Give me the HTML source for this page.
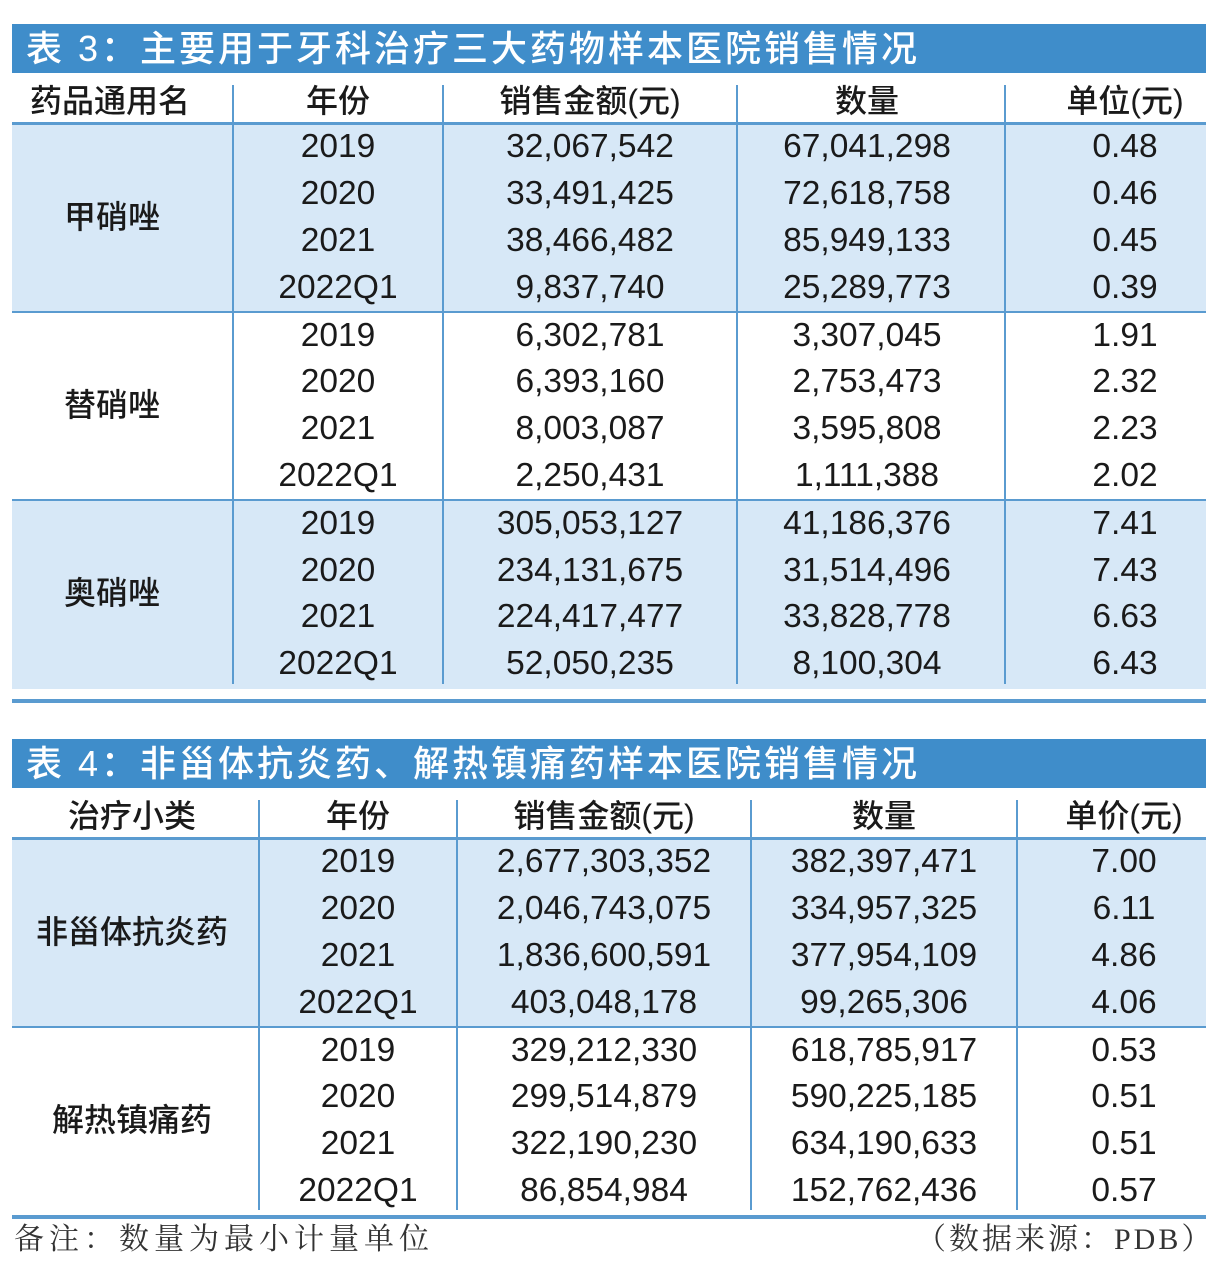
<!DOCTYPE html>
<html><head><meta charset="utf-8">
<style>
body{margin:0;background:#fff;width:1228px;height:1282px;position:relative;overflow:hidden;font-family:"Liberation Sans","Noto Sans CJK SC",sans-serif;color:#1a1a1a}
.a{position:absolute}
.title{background:#3f8dca;color:#fff;font-size:36px;line-height:49px;padding-left:14px;box-sizing:border-box;letter-spacing:3px;font-weight:500}
.t{position:absolute;font-size:33.5px;line-height:40px;white-space:nowrap;transform:translate(-50%,-50%)}
.h{position:absolute;font-size:32px;line-height:40px;white-space:nowrap;transform:translate(-50%,-50%);font-weight:500}
.band{position:absolute;background:#d7e8f7}
.hl{position:absolute;background:#5a9bd0}
.vl{position:absolute;background:#5a9bd0;width:2px}
.note{position:absolute;font-family:"Liberation Serif","Noto Serif CJK SC",serif;font-size:30px;line-height:36px;color:#333;white-space:nowrap}
</style></head>
<body>
<div id="root"></div>
<script>
const t3Title = "表 3：主要用于牙科治疗三大药物样本医院销售情况";
const t3Headers = ["药品通用名","年份","销售金额(元)","数量","单位(元)"];
const t3Groups = ["甲硝唑","替硝唑","奥硝唑"];
const years = ["2019","2020","2021","2022Q1"];
const t3Sales = ["32,067,542","33,491,425","38,466,482","9,837,740","6,302,781","6,393,160","8,003,087","2,250,431","305,053,127","234,131,675","224,417,477","52,050,235"];
const t3Qty = ["67,041,298","72,618,758","85,949,133","25,289,773","3,307,045","2,753,473","3,595,808","1,111,388","41,186,376","31,514,496","33,828,778","8,100,304"];
const t3Unit = ["0.48","0.46","0.45","0.39","1.91","2.32","2.23","2.02","7.41","7.43","6.63","6.43"];
const t4Title = "表 4：非甾体抗炎药、解热镇痛药样本医院销售情况";
const t4Headers = ["治疗小类","年份","销售金额(元)","数量","单价(元)"];
const t4Groups = ["非甾体抗炎药","解热镇痛药"];
const t4Sales = ["2,677,303,352","2,046,743,075","1,836,600,591","403,048,178","329,212,330","299,514,879","322,190,230","86,854,984"];
const t4Qty = ["382,397,471","334,957,325","377,954,109","99,265,306","618,785,917","590,225,185","634,190,633","152,762,436"];
const t4Unit = ["7.00","6.11","4.86","4.06","0.53","0.51","0.51","0.57"];

const root=document.getElementById('root');
function mk(cls,style,text){const e=document.createElement('div');e.className=cls;Object.assign(e.style,style);if(text!==undefined)e.textContent=text;root.appendChild(e);return e;}

function table(cfg){
  const {top,title,headers,groups,sales,qty,unit,cols,centers,prefix}=cfg;
  const L=12,W=1194,rowH=46.8;
  let e=mk('a title',{left:L+'px',top:top+'px',width:W+'px',height:'49px'},title);
  
  
  const bodyTop=top+101;
  headers.forEach((h,i)=>{
    let x=centers[i]; if(i===0&&prefix==='table3') x=110;
    const d=mk('h',{left:x+'px',top:(top+77)+'px'},h);
    
    
  });
  const gH=rowH*4;
  groups.forEach((g,gi)=>{
    const y0=bodyTop+gi*(gH+1);
    if(gi%2===0){const b=mk('band',{left:L+'px',top:y0+'px',width:W+'px',height:gH+'px'});
      
      }
    const n=mk('t',{left:centers[0]+'px',top:(y0+gH/2-2)+'px',fontSize:'32px',fontWeight:'500'},g);
    
    
    years.forEach((yr,ri)=>{
      const k=gi*4+ri, cy=y0+rowH*ri+rowH/2-1;
      [yr,sales[k],qty[k],unit[k]].forEach((v,ci)=>{
        const c=mk('t',{left:centers[ci+1]+'px',top:cy+'px'},v);
        
        
      });
    });
    if(gi>0){const l=mk('hl',{left:L+'px',top:(y0-2)+'px',width:W+'px',height:'2px'});
      
      }
  });
  const bodyEnd=bodyTop+groups.length*(gH+1);
  let hl=mk('hl',{left:L+'px',top:(bodyTop-3)+'px',width:W+'px',height:'3px'});
  
  
  let bl=mk('hl',{left:L+'px',top:(bodyEnd+cfg.botGap)+'px',width:W+'px',height:'4px'});
  
  
  cols.forEach(x=>{
    const v=mk('vl',{left:x+'px',top:(top+61)+'px',height:(bodyEnd-top-61-6)+'px'});
    
    
  });
}
table({top:24,title:t3Title,headers:t3Headers,groups:t3Groups,sales:t3Sales,qty:t3Qty,unit:t3Unit,
  cols:[232,442,736,1004],centers:[112,338,590,867,1125],prefix:'table3',botGap:9});
table({top:739,title:t4Title,headers:t4Headers,groups:t4Groups,sales:t4Sales,qty:t4Qty,unit:t4Unit,
  cols:[258,456,750,1016],centers:[132,358,604,884,1124],prefix:'table4',botGap:-1});
let n1=mk('note',{left:'14px',top:'1222px',letterSpacing:'5px'},'备注：数量为最小计量单位');


let n2=mk('note',{left:'916px',top:'1222px',letterSpacing:'3px'},'（数据来源：PDB）');


</script>
</body></html>
